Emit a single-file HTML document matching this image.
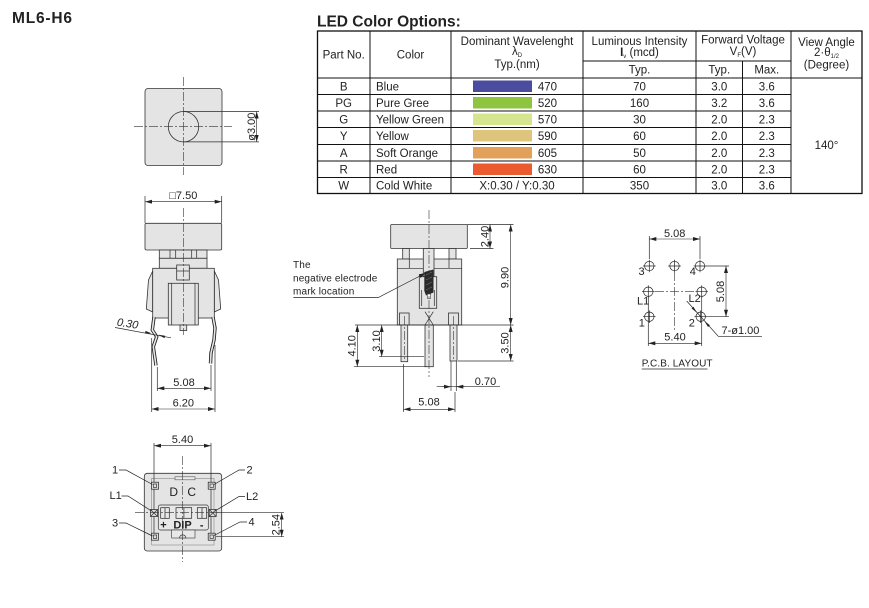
<!DOCTYPE html>
<html><head><meta charset="utf-8"><style>
html,body{margin:0;padding:0;background:#fff;}
body{width:869px;height:608px;overflow:hidden;}
svg{display:block;font-family:"Liberation Sans",Arial,sans-serif;}
.ln{stroke:#2a2a2a;stroke-width:.7;fill:none}
.bd{stroke:#333;stroke-width:.8;fill:#e4e4e4}
.cl{stroke:#333;stroke-width:.6;stroke-dasharray:9 2 2 2;fill:none}
.dm{stroke:#222;stroke-width:.6;fill:none;marker-start:url(#a);marker-end:url(#a)}
.t{font-size:11px;fill:#222}
.tb{stroke:#111;stroke-width:1;fill:none}
.h{font-size:11.5px;fill:#222;text-anchor:middle}
.d{font-size:11.5px;fill:#222}
.m{text-anchor:middle}
</style></head><body>
<svg width="869" height="608" viewBox="0 0 869 608" xmlns="http://www.w3.org/2000/svg">
<defs>
<marker id="a" viewBox="0 0 7 4" refX="7" refY="2" markerWidth="7" markerHeight="4" markerUnits="userSpaceOnUse" orient="auto-start-reverse"><path d="M0,0L7,2L0,4z" fill="#222"/></marker>
<marker id="e" viewBox="0 0 7 4" refX="7" refY="2" markerWidth="7" markerHeight="4" markerUnits="userSpaceOnUse" orient="auto"><path d="M0,0L7,2L0,4z" fill="#222"/></marker>
</defs>

<!-- Titles -->
<text x="12" y="23" font-size="15.5" font-weight="bold" letter-spacing="0.8" fill="#222">ML6-H6</text>
<text x="317" y="26.5" font-size="15.5" font-weight="bold" fill="#222">LED Color Options:</text>

<!-- Table -->
<rect x="317.5" y="31" width="544.5" height="162.5" fill="none" stroke="#111" stroke-width="1.3"/>
<line class="tb" x1="370" y1="31" x2="370" y2="193.5"/>
<line class="tb" x1="451" y1="31" x2="451" y2="193.5"/>
<line class="tb" x1="583" y1="31" x2="583" y2="193.5"/>
<line class="tb" x1="696" y1="31" x2="696" y2="193.5"/>
<line class="tb" x1="791" y1="31" x2="791" y2="193.5"/>
<line class="tb" x1="742.5" y1="61" x2="742.5" y2="193.5"/>
<line class="tb" x1="583" y1="61" x2="791" y2="61"/>
<line class="tb" x1="317.5" y1="78" x2="862" y2="78" stroke-width="1.2"/>
<line class="tb" x1="317.5" y1="94.5" x2="791" y2="94.5"/>
<line class="tb" x1="317.5" y1="111" x2="791" y2="111"/>
<line class="tb" x1="317.5" y1="127.5" x2="791" y2="127.5"/>
<line class="tb" x1="317.5" y1="144.5" x2="791" y2="144.5"/>
<line class="tb" x1="317.5" y1="161" x2="791" y2="161"/>
<line class="tb" x1="317.5" y1="177.5" x2="791" y2="177.5"/>

<text class="h" x="343.7" y="58.5">Part No.</text>
<text class="h" x="410.5" y="58.5">Color</text>
<text class="h" x="517" y="45">Dominant Wavelenght</text>
<text class="h" x="517" y="55" font-size="10">λ<tspan font-size="6" dy="2">D</tspan></text>
<text class="h" x="517" y="68">Typ.(nm)</text>
<text class="h" x="639.5" y="45">Luminous Intensity</text>
<text class="h" x="639.5" y="56"><tspan font-weight="bold">I</tspan><tspan font-size="6" dy="2">v</tspan><tspan dy="-2"> (mcd)</tspan></text>
<text class="h" x="639.5" y="73.5">Typ.</text>
<text class="h" x="743" y="43.5">Forward Voltage</text>
<text class="h" x="743" y="55">V<tspan font-size="6" dy="2">F</tspan><tspan dy="-2">(V)</tspan></text>
<text class="h" x="719.3" y="73.5">Typ.</text>
<text class="h" x="766.8" y="73.5">Max.</text>
<text class="h" x="826.5" y="46">View Angle</text>
<text class="h" x="826.5" y="56" font-size="10">2·θ<tspan font-size="6" dy="2">1/2</tspan></text>
<text class="h" x="826.5" y="68.5">(Degree)</text>

<g class="d">
<rect x="473" y="80.5" width="59" height="11.5" fill="#4b4c9f"/>
<rect x="473" y="97" width="59" height="11.5" fill="#8fc440"/>
<rect x="473" y="113.5" width="59" height="11.5" fill="#d5e58e"/>
<rect x="473" y="130" width="59" height="11.5" fill="#dfc47b"/>
<rect x="473" y="147" width="59" height="11.5" fill="#e2a05b"/>
<rect x="473" y="163.5" width="59" height="11.5" fill="#ec5a30"/>
</g>
<g class="d">
<text class="m" x="343.7" y="90.5">B</text><text x="376" y="90.5">Blue</text><text x="557" y="90.5" text-anchor="end">470</text><text class="m" x="639.5" y="90.5">70</text><text class="m" x="719.3" y="90.5">3.0</text><text class="m" x="766.8" y="90.5">3.6</text>
<text class="m" x="343.7" y="107">PG</text><text x="376" y="107">Pure Gree</text><text x="557" y="107" text-anchor="end">520</text><text class="m" x="639.5" y="107">160</text><text class="m" x="719.3" y="107">3.2</text><text class="m" x="766.8" y="107">3.6</text>
<text class="m" x="343.7" y="123.5">G</text><text x="376" y="123.5">Yellow Green</text><text x="557" y="123.5" text-anchor="end">570</text><text class="m" x="639.5" y="123.5">30</text><text class="m" x="719.3" y="123.5">2.0</text><text class="m" x="766.8" y="123.5">2.3</text>
<text class="m" x="343.7" y="140">Y</text><text x="376" y="140">Yellow</text><text x="557" y="140" text-anchor="end">590</text><text class="m" x="639.5" y="140">60</text><text class="m" x="719.3" y="140">2.0</text><text class="m" x="766.8" y="140">2.3</text>
<text class="m" x="343.7" y="157">A</text><text x="376" y="157">Soft Orange</text><text x="557" y="157" text-anchor="end">605</text><text class="m" x="639.5" y="157">50</text><text class="m" x="719.3" y="157">2.0</text><text class="m" x="766.8" y="157">2.3</text>
<text class="m" x="343.7" y="173.5">R</text><text x="376" y="173.5">Red</text><text x="557" y="173.5" text-anchor="end">630</text><text class="m" x="639.5" y="173.5">60</text><text class="m" x="719.3" y="173.5">2.0</text><text class="m" x="766.8" y="173.5">2.3</text>
<text class="m" x="343.7" y="189.5">W</text><text x="376" y="189.5">Cold White</text><text class="m" x="517" y="189.5">X:0.30 / Y:0.30</text><text class="m" x="639.5" y="189.5">350</text><text class="m" x="719.3" y="189.5">3.0</text><text class="m" x="766.8" y="189.5">3.6</text>
<text class="m" x="826.5" y="149">140°</text>
</g>

<!-- Top view -->
<rect class="bd" x="145" y="88.5" width="77" height="77" rx="3"/>
<circle class="bd" cx="183.5" cy="126.7" r="15.2"/>
<line class="cl" x1="183.5" y1="77" x2="183.5" y2="175"/>
<line class="cl" x1="134" y1="126.7" x2="232" y2="126.7"/>
<line class="ln" x1="183.5" y1="111.5" x2="259" y2="111.5"/>
<line class="ln" x1="183.5" y1="141.9" x2="259" y2="141.9"/>
<line class="dm" x1="256.7" y1="111.5" x2="256.7" y2="141.9"/>
<text class="t" transform="translate(255,126.7) rotate(-90)" text-anchor="middle">ø3.00</text>

<!-- Front view -->
<line class="ln" x1="145" y1="196" x2="145" y2="223"/>
<line class="ln" x1="221.7" y1="196" x2="221.7" y2="223"/>
<line class="dm" x1="145" y1="201.7" x2="221.7" y2="201.7"/>
<text class="t m" x="183.3" y="199">□7.50</text>
<rect class="bd" x="145" y="223.3" width="76.7" height="26.7" rx="1.5"/>
<rect class="bd" x="159.3" y="250" width="47.7" height="8.3"/>
<path class="ln" d="M170,250V258.3M175.7,250V258.3M191.7,250V258.3M196.7,250V258.3"/>
<rect class="bd" x="159.3" y="258.3" width="47.7" height="10"/>
<polygon class="bd" points="152.7,271 148.5,280 146.3,309 152.7,312"/>
<polygon class="bd" points="214.3,271 218.5,280 220.7,309 214.3,312"/>
<rect class="bd" x="152.7" y="268.3" width="61.6" height="49.7"/>
<rect class="bd" x="176.7" y="265" width="12.6" height="15"/>
<line class="ln" x1="176.7" y1="271" x2="189.3" y2="271"/>
<rect class="bd" x="168.3" y="283.3" width="30" height="41.7"/>
<path class="ln" d="M171.7,283.3V325M195,283.3V325"/>
<rect class="bd" x="180" y="325" width="6.7" height="5.5"/>
<polyline points="154,317 152.3,330 156.7,336.7 153.3,346.7 156,365.5" fill="none" stroke="#222" stroke-width="3.4"/>
<polyline points="154,317 152.3,330 156.7,336.7 153.3,346.7 156,365.5" fill="none" stroke="#e8e8e8" stroke-width="1.6"/>
<polyline points="213,317 215,328 214,340 211,353 210.5,363.5" fill="none" stroke="#222" stroke-width="3.4"/>
<polyline points="213,317 215,328 214,340 211,353 210.5,363.5" fill="none" stroke="#e8e8e8" stroke-width="1.6"/>
<line class="cl" x1="183.3" y1="208" x2="183.3" y2="335"/>
<line class="ln" x1="151.7" y1="338" x2="151.7" y2="412"/>
<line class="ln" x1="215" y1="345" x2="215" y2="412"/>
<line class="ln" x1="157.3" y1="367" x2="157.3" y2="391"/>
<line class="ln" x1="211" y1="365" x2="211" y2="391"/>
<line class="dm" x1="157.3" y1="388.3" x2="211" y2="388.3"/>
<text class="t m" x="184" y="386">5.08</text>
<line class="dm" x1="151.7" y1="409" x2="215" y2="409"/>
<text class="t m" x="183.3" y="406.3">6.20</text>
<line class="ln" x1="115" y1="327.5" x2="171" y2="337.8"/>
<path d="M151.5,333.4l-6,-2.5l-0.5,2.6z M158.5,334.7l6,3.6l0.5,-2.6z" fill="#222"/>
<text class="t" font-style="italic" transform="translate(116.5,325.5) rotate(9)">0.30</text>

<!-- Middle side view -->
<rect class="bd" x="390.7" y="224.5" width="76.6" height="24" rx="1"/>
<rect class="bd" x="402.7" y="248.5" width="6.6" height="10.5"/>
<rect class="bd" x="449" y="248.5" width="7" height="10.5"/>
<rect class="bd" x="397.3" y="259" width="64.4" height="66"/>
<path class="ln" d="M397.3,268.3H461.7M409.3,259V268.3M449,259V268.3"/>
<rect class="bd" x="423.3" y="248.5" width="10.7" height="28.2"/>
<rect class="bd" x="419.3" y="276.7" width="17.4" height="31.6"/>
<path class="ln" d="M421.7,290V306M434.3,290V306"/>
<polygon points="424.3,272 433.5,269.5 433.5,292.5 426,295.5 424.3,291" fill="#2a2a2a"/>
<path d="M426,275l6,-3M426,280l6,-3M426,285l6,-3M426,290l6,-3" stroke="#888" stroke-width=".5"/>
<rect x="427.3" y="294" width="3.4" height="4.3" fill="#fff" stroke="#333" stroke-width=".6"/>
<path class="ln" d="M425,311.7L433.3,325M433.3,311.7L425,325"/>
<rect class="bd" x="399.5" y="313" width="9.6" height="12"/>
<rect class="bd" x="448.5" y="313" width="10" height="12"/>
<rect class="bd" x="401" y="325" width="6.7" height="36.7"/>
<rect class="bd" x="425" y="325" width="8.3" height="41.7"/>
<rect class="bd" x="450" y="325" width="7" height="36"/>
<line class="cl" x1="404.3" y1="316" x2="404.3" y2="360"/>
<line class="cl" x1="453.5" y1="316" x2="453.5" y2="360"/>
<line class="cl" x1="429" y1="210" x2="429" y2="377"/>
<!-- middle dims -->
<line class="ln" x1="467.3" y1="224.5" x2="513.5" y2="224.5"/>
<line class="ln" x1="470" y1="248.5" x2="493.5" y2="248.5"/>
<line class="dm" x1="490" y1="224.5" x2="490" y2="248.5"/>
<text class="t m" transform="translate(488.3,236.5) rotate(-90)">2.40</text>
<line class="dm" x1="510.7" y1="224.5" x2="510.7" y2="325"/>
<text class="t m" transform="translate(508.6,277.5) rotate(-90)">9.90</text>
<line class="dm" x1="510.7" y1="325" x2="510.7" y2="361"/>
<text class="t m" transform="translate(508.6,343) rotate(-90)">3.50</text>
<line class="ln" x1="355" y1="325" x2="513.5" y2="325"/>
<line class="ln" x1="458" y1="361" x2="513.5" y2="361"/>
<line class="dm" x1="357.3" y1="325" x2="357.3" y2="366.7"/>
<text class="t m" transform="translate(355.5,345.8) rotate(-90)">4.10</text>
<line class="ln" x1="354" y1="366.7" x2="427" y2="366.7"/>
<line class="dm" x1="381.7" y1="325" x2="381.7" y2="356.7"/>
<text class="t m" transform="translate(379.9,341) rotate(-90)">3.10</text>
<line class="ln" x1="379" y1="356.7" x2="424" y2="356.7"/>
<line class="ln" x1="451" y1="361" x2="451" y2="391"/>
<line class="ln" x1="456.3" y1="361" x2="456.3" y2="391"/>
<line class="ln" x1="436.7" y1="386.7" x2="500" y2="386.7"/>
<line x1="442" y1="386.7" x2="451" y2="386.7" stroke="#222" stroke-width=".6" marker-end="url(#e)"/>
<line x1="465" y1="386.7" x2="456.3" y2="386.7" stroke="#222" stroke-width=".6" marker-end="url(#e)"/>
<text class="t m" x="485.5" y="384.8">0.70</text>
<line class="ln" x1="403.5" y1="364" x2="403.5" y2="412"/>
<line class="ln" x1="455" y1="392" x2="455" y2="412"/>
<line class="dm" x1="403.5" y1="409.3" x2="455" y2="409.3"/>
<text class="t m" x="429" y="405.5">5.08</text>
<g font-size="10" fill="#222" letter-spacing="0.15">
<text x="293" y="268">The</text>
<text x="293" y="281.5">negative electrode</text>
<text x="293" y="294.5">mark location</text>
</g>
<polyline points="293.3,297.5 378.3,297.5 425.7,273" fill="none" stroke="#222" stroke-width=".7" marker-end="url(#e)"/>

<!-- PCB layout -->
<g fill="none" stroke="#222" stroke-width=".7">
<circle cx="649.3" cy="266" r="4.7"/><circle cx="674.5" cy="266" r="4.7"/><circle cx="700" cy="266" r="4.7"/>
<circle cx="648.3" cy="291.7" r="4.7"/><circle cx="701.7" cy="291.7" r="4.7"/>
<circle cx="649.3" cy="316.7" r="4.7"/><circle cx="700.7" cy="316.7" r="4.7"/>
<path d="M643,266h12.6M649.3,259.7v12.6M668.2,266h12.6M674.5,259.7v12.6M693.7,266h12.6M700,259.7v12.6M642,291.7h12.6M648.3,285.4v12.6M695.4,291.7h12.6M701.7,285.4v12.6M643,316.7h12.6M649.3,310.4v12.6M694.4,316.7h12.6M700.7,310.4v12.6"/>
</g>
<line class="cl" x1="655" y1="291.7" x2="695" y2="291.7" stroke-dasharray="6 2 2 2"/>
<line class="cl" x1="674.5" y1="272" x2="674.5" y2="330" stroke-dasharray="9 2 2 2"/>
<line class="ln" x1="649.3" y1="236" x2="649.3" y2="259"/>
<line class="ln" x1="700" y1="236" x2="700" y2="259"/>
<line class="dm" x1="649.3" y1="239" x2="700" y2="239"/>
<text class="t m" x="674.7" y="236.8">5.08</text>
<line class="ln" x1="706" y1="266" x2="729" y2="266"/>
<line class="ln" x1="707" y1="316.7" x2="729" y2="316.7"/>
<line class="dm" x1="726" y1="266" x2="726" y2="316.7"/>
<text class="t m" transform="translate(724,291.5) rotate(-90)">5.08</text>
<line class="ln" x1="648.3" y1="297" x2="648.3" y2="346"/>
<line class="ln" x1="701.7" y1="297" x2="701.7" y2="346"/>
<line class="dm" x1="648.3" y1="343.3" x2="701.7" y2="343.3"/>
<text class="t m" x="675" y="340.5">5.40</text>
<polyline points="762,336.3 718.3,336.3 686.7,301" fill="none" stroke="#222" stroke-width=".7"/>
<path d="M697,312.7l-5.5,-4.3l1.9,-1.7z M704.4,321l5.5,4.3l-1.9,1.7z" fill="#222"/>
<text class="t" x="721.5" y="334">7-ø1.00</text>
<g class="t">
<text x="638.5" y="275">3</text>
<text x="689.8" y="275">4</text>
<text x="637" y="304.5">L1</text>
<text x="688.5" y="302">L2</text>
<text x="638.8" y="326.5">1</text>
<text x="688.8" y="326.5">2</text>
</g>
<text x="641.7" y="366.5" font-size="10" letter-spacing="0.1" fill="#222">P.C.B. LAYOUT</text>
<line class="ln" x1="641.7" y1="369" x2="707.5" y2="369"/>

<!-- Bottom view -->
<rect class="bd" x="144.3" y="473.3" width="77.4" height="77.7" rx="3" fill="#e2e2e2"/>
<rect x="151.7" y="478.3" width="62.3" height="66.7" fill="none" stroke="#888" stroke-width=".6"/>
<rect x="175" y="476.8" width="20" height="3" fill="#ececec" stroke="#555" stroke-width=".6"/>
<line class="ln" x1="154" y1="443" x2="154" y2="538"/>
<line class="ln" x1="211" y1="443" x2="211" y2="538"/>
<line class="dm" x1="154" y1="445.7" x2="211" y2="445.7"/>
<text class="t m" x="182.5" y="443">5.40</text>
<g fill="#ddd" stroke="#222" stroke-width=".7">
<rect x="151.5" y="482.2" width="7" height="7"/><rect x="208.2" y="482.2" width="7" height="7"/>
<rect x="151.5" y="533.2" width="7" height="7"/><rect x="208.2" y="533.2" width="7" height="7"/>
<rect x="150.5" y="509.5" width="7" height="7"/><rect x="209.2" y="509.5" width="7" height="7"/>
</g>
<g fill="none" stroke="#222" stroke-width=".6">
<rect x="153.3" y="484" width="3.4" height="3.4"/><rect x="210" y="484" width="3.4" height="3.4"/>
<rect x="153.3" y="535" width="3.4" height="3.4"/><rect x="210" y="535" width="3.4" height="3.4"/>
<path d="M150.5,509.5l7,7M157.5,509.5l-7,7M209.2,509.5l7,7M216.2,509.5l-7,7"/>
</g>
<text x="173.7" y="496" font-size="12" fill="#222" text-anchor="middle">D</text>
<text x="191.7" y="496" font-size="12" fill="#222" text-anchor="middle">C</text>
<rect x="158.3" y="505" width="50" height="25" rx="2" fill="#e8e8e8" stroke="#333" stroke-width=".7"/>
<g fill="none" stroke="#222" stroke-width=".7">
<rect x="160.7" y="507.7" width="8.6" height="10.6"/>
<rect x="176" y="507.7" width="15.7" height="10.6"/>
<rect x="197.3" y="507.7" width="9.4" height="10.6"/>
<path d="M165,507.7v10.6M183.9,507.7v10.6M202,507.7v10.6"/>
</g>
<g font-size="11" font-weight="bold" fill="#222" text-anchor="middle">
<text x="163.5" y="528.7">+</text>
<text x="182.5" y="528.7">DIP</text>
<text x="201.7" y="528.7">-</text>
</g>
<rect x="171.7" y="530" width="23.3" height="8" fill="#e8e8e8" stroke="#333" stroke-width=".6"/>
<path d="M179.5,538a3.2,3.2 0 0 1 6.4,0z" fill="#ddd" stroke="#222" stroke-width=".6"/>
<line class="cl" x1="182.7" y1="456" x2="182.7" y2="562"/>
<line class="cl" x1="135" y1="512.7" x2="222" y2="512.7"/>
<line class="ln" x1="217" y1="512.7" x2="284" y2="512.7"/>
<line class="ln" x1="216" y1="536.7" x2="284" y2="536.7"/>
<line class="dm" x1="281.7" y1="512.7" x2="281.7" y2="536.7"/>
<text class="t m" transform="translate(279.3,524.7) rotate(-90)">2.54</text>
<g class="t">
<text x="112" y="473.5">1</text>
<text x="246.5" y="473.5">2</text>
<text x="109.5" y="499">L1</text>
<text x="246" y="500">L2</text>
<text x="112" y="526.5">3</text>
<text x="248.5" y="525.5">4</text>
</g>
<g fill="none" stroke="#222" stroke-width=".7">
<polyline points="119,470 126,470 152.5,484.5"/>
<polyline points="245,470 239,470 214,484.5"/>
<polyline points="121.5,496 128,496 151.5,511"/>
<polyline points="245,496.5 239,496.5 215,511"/>
<polyline points="119,523 126,523 152.5,536"/>
<polyline points="247,522 240,522 214,535.5"/>
</g>
</svg>
</body></html>
